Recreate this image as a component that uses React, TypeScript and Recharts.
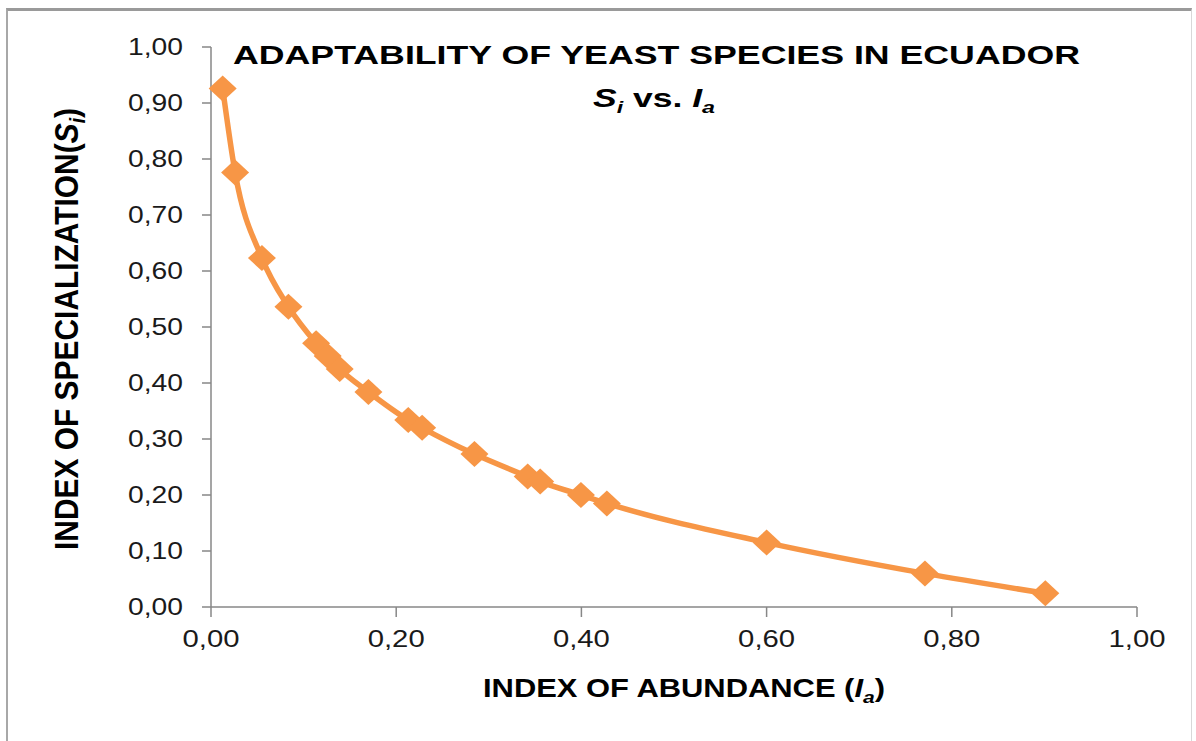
import { ComposedChart, Line, XAxis, YAxis } from "recharts";

const abundance = [
  0.0126, 0.026, 0.055, 0.0836, 0.1135, 0.126, 0.139, 0.17, 0.213, 0.228,
  0.2845, 0.342, 0.3555, 0.3995, 0.4275, 0.6, 0.771, 0.901,
];
const specialization = [
  0.926, 0.776, 0.623, 0.536, 0.471, 0.448, 0.425, 0.384, 0.334, 0.32,
  0.273, 0.233, 0.224, 0.2, 0.185, 0.115, 0.06, 0.0245,
];
const xTicks = [0, 0.2, 0.4, 0.6, 0.8, 1];
const yTicks = [0, 0.1, 0.2, 0.3, 0.4, 0.5, 0.6, 0.7, 0.8, 0.9, 1];

const ORANGE = "#F79646";
const AXIS = "#878787";
const FONT = "'Liberation Sans', Arial, sans-serif";

const data = abundance.map((x, i) => ({ x, y: specialization[i] }));

const fmt = (v: number) => v.toFixed(2).replace(".", ",");

function Diamond(props: any) {
  const { cx, cy } = props;
  if (cx == null || cy == null) return null;
  return (
    <polygon
      points={`${cx},${cy - 13} ${cx + 14},${cy} ${cx},${cy + 13} ${cx - 14},${cy}`}
      fill={ORANGE}
    />
  );
}

function YTick(props: any) {
  const { x, y, payload } = props;
  return (
    <text
      x={x}
      y={y + 8}
      textAnchor="end"
      fontFamily={FONT}
      fontSize={24}
      fill="#1a1a1a"
      textLength={55}
      lengthAdjust="spacingAndGlyphs"
    >
      {fmt(payload.value)}
    </text>
  );
}

function XTick(props: any) {
  const { x, y, payload } = props;
  return (
    <text
      x={x}
      y={y + 28}
      textAnchor="middle"
      fontFamily={FONT}
      fontSize={24}
      fill="#1a1a1a"
      textLength={57}
      lengthAdjust="spacingAndGlyphs"
    >
      {fmt(payload.value)}
    </text>
  );
}

export default function App() {
  return (
    <div
      style={{
        position: "absolute",
        left: 0,
        top: 0,
        width: 1196,
        height: 741,
        background: "#fff",
      }}
    >
      <div
        style={{
          position: "absolute",
          left: 6,
          top: 8,
          width: 1186,
          height: 740,
          borderTop: "3px solid #9a9a9a",
          borderLeft: "2px solid #a8a8a8",
          borderRight: "1px solid #d8d8d8",
          boxSizing: "border-box",
        }}
      />
      <ComposedChart
        width={1196}
        height={741}
        data={data}
        margin={{ top: 47, right: 59, bottom: 74, left: 111 }}
        style={{ position: "absolute", left: 0, top: 0 }}
      >
        <XAxis
          type="number"
          dataKey="x"
          domain={[0, 1]}
          ticks={xTicks}
          interval={0}
          height={60}
          stroke={AXIS}
          strokeWidth={1.5}
          tickSize={10}
          tickMargin={2}
          tick={<XTick />}
        />
        <YAxis
          type="number"
          domain={[0, 1]}
          ticks={yTicks}
          interval={0}
          width={100}
          stroke={AXIS}
          strokeWidth={1.5}
          tickSize={9}
          tickMargin={19}
          tick={<YTick />}
        />
        <Line
          type="monotone"
          dataKey="y"
          stroke={ORANGE}
          strokeWidth={5.5}
          dot={<Diamond />}
          activeDot={false}
          isAnimationActive={false}
        />
      </ComposedChart>
      <svg
        width={1196}
        height={741}
        style={{ position: "absolute", left: 0, top: 0, pointerEvents: "none" }}
        fontFamily={FONT}
        fill="#000"
      >
        <text
          x={233}
          y={64}
          fontSize={26}
          fontWeight="bold"
          textLength={847}
          lengthAdjust="spacingAndGlyphs"
        >
          ADAPTABILITY OF YEAST SPECIES IN ECUADOR
        </text>
        <text
          x={593}
          y={107}
          fontSize={26}
          fontWeight="bold"
          textLength={122}
          lengthAdjust="spacingAndGlyphs"
        >
          <tspan fontStyle="italic">S</tspan>
          <tspan fontStyle="italic" fontSize={17} dy={6}>
            i
          </tspan>
          <tspan dy={-6}> vs. </tspan>
          <tspan fontStyle="italic">I</tspan>
          <tspan fontStyle="italic" fontSize={17} dy={6}>
            a
          </tspan>
        </text>
        <text
          x={483}
          y={697}
          fontSize={25}
          fontWeight="bold"
          textLength={402}
          lengthAdjust="spacingAndGlyphs"
        >
          INDEX OF ABUNDANCE (
          <tspan fontStyle="italic">I</tspan>
          <tspan fontStyle="italic" fontSize={17} dy={6}>
            a
          </tspan>
          <tspan dy={-6}>)</tspan>
        </text>
        <text
          transform="translate(78,550) rotate(-90)"
          x={0}
          y={0}
          fontSize={34}
          fontWeight="bold"
          textLength={442}
          lengthAdjust="spacingAndGlyphs"
        >
          INDEX OF SPECIALIZATION(
          <tspan fontStyle="italic">S</tspan>
          <tspan fontStyle="italic" fontSize={22} dy={7}>
            i
          </tspan>
          <tspan dy={-7}>)</tspan>
        </text>
      </svg>
    </div>
  );
}
